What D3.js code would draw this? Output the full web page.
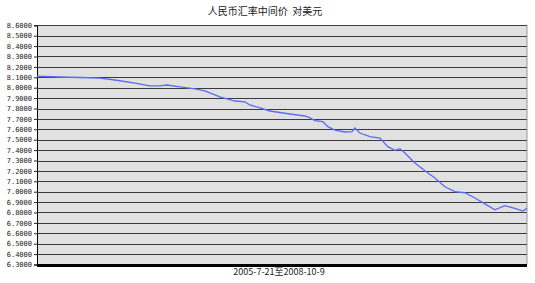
<!DOCTYPE html>
<html>
<head>
<meta charset="utf-8">
<script src="https://cdn.jsdelivr.net/npm/d3@7"></script>
<style>
  body { margin: 0; background: #fff; }
  svg { display: block; }
</style>
</head>
<body>
<svg id="chart" width="535" height="283"></svg>
<script>
////////// dados
const titulo = '人民币汇率中间价\u00a0\u00a0对美元';
const rotuloX = '2005-7-21至2008-10-9';
const inicio = '2005-07-21';
const fim = '2008-10-09';

const datas = [
  '2005-07-21','2005-09-14','2005-11-01','2005-12-19','2006-01-24','2006-03-13',
  '2006-04-18','2006-05-12','2006-05-29','2006-06-29','2006-08-04','2006-08-28',
  '2006-10-03','2006-11-08','2006-12-02','2006-12-14','2007-01-07','2007-01-31',
  '2007-03-20','2007-04-25','2007-05-07','2007-05-19','2007-06-07','2007-06-19',
  '2007-07-06','2007-07-30','2007-08-16','2007-08-23','2007-09-04','2007-09-28',
  '2007-10-22','2007-11-10','2007-11-27','2007-12-09','2007-12-21','2008-01-14',
  '2008-02-07','2008-03-02','2008-03-26','2008-04-19','2008-05-13','2008-06-06',
  '2008-06-30','2008-07-24','2008-08-17','2008-09-10','2008-09-29','2008-10-09'
];
const taxas = [
  8.111, 8.103, 8.098, 8.093, 8.074, 8.045,
  8.017, 8.017, 8.026, 8.007, 7.988, 7.969,
  7.911, 7.872, 7.863, 7.834, 7.805, 7.776,
  7.747, 7.728, 7.709, 7.684, 7.673, 7.625,
  7.593, 7.574, 7.577, 7.612, 7.564, 7.529,
  7.516, 7.433, 7.397, 7.413, 7.372, 7.276,
  7.202, 7.132, 7.048, 7.000, 6.990, 6.939,
  6.883, 6.826, 6.865, 6.840, 6.813, 6.840
];
const ticksY = [8.6, 8.5, 8.4, 8.3, 8.2, 8.1, 8.0, 7.9, 7.8, 7.7, 7.6, 7.5,
  7.4, 7.3, 7.2, 7.1, 7.0, 6.9, 6.8, 6.7, 6.6, 6.5, 6.4, 6.3];

////////// escalas
const parse = d3.timeParse('%Y-%m-%d');
const margem = {left: 37, right: 527, top: 25.3, bottom: 264.5};

const svg = d3.select('#chart');

let x = d3.scaleTime()
  .domain([parse(inicio), parse(fim)])
  .range([margem.left, margem.right]);

let y = d3.scaleLinear()
  .domain([6.3, 8.6])
  .range([margem.bottom, margem.top]);

// fundo da área do gráfico
svg.append('rect')
  .attr('x', margem.left)
  .attr('y', margem.top)
  .attr('width', margem.right - margem.left)
  .attr('height', margem.bottom - margem.top)
  .attr('fill', '#e1e1e1');

// rótulos + marcas do eixo Y
const eixoY = d3.axisLeft(y)
  .tickValues(ticksY)
  .tickSize(3)
  .tickFormat(d3.format('.4f'));

const gY = svg.append('g')
  .attr('transform', 'translate(' + margem.left + ',0)')
  .call(eixoY);

gY.select('.domain').attr('stroke', '#000');
gY.selectAll('.tick line').attr('stroke', '#222');
gY.selectAll('.tick text')
  .attr('x', -5)
  .attr('font-family', 'DejaVu Sans Mono, monospace')
  .attr('font-size', 7)
  .attr('fill', '#222');

// linhas de grade
svg.append('g')
  .selectAll('line')
  .data(ticksY.filter(d => d > 6.3))
  .join('line')
  .attr('x1', margem.left)
  .attr('x2', margem.right)
  .attr('y1', d => Math.round(y(d)) + 0.5)
  .attr('y2', d => Math.round(y(d)) + 0.5)
  .attr('stroke', '#3a3a3a')
  .attr('stroke-width', 1);

// borda direita
svg.append('line')
  .attr('x1', margem.right).attr('x2', margem.right)
  .attr('y1', margem.top).attr('y2', margem.bottom)
  .attr('stroke', '#999');

// eixo inferior grosso
svg.append('line')
  .attr('x1', margem.left).attr('x2', margem.right)
  .attr('y1', margem.bottom + 1).attr('y2', margem.bottom + 1)
  .attr('stroke', '#000')
  .attr('stroke-width', 3);

// linha da taxa
const pontos = datas.map((d, i) => ({data: parse(d), v: taxas[i]}));

const linha = d3.line()
  .x(d => x(d.data))
  .y(d => y(d.v));

svg.append('path')
  .datum(pontos)
  .attr('d', linha)
  .attr('fill', 'none')
  .attr('stroke', '#5a6cf6')
  .attr('stroke-width', 1.3);

// títulos
svg.append('text')
  .attr('x', 265)
  .attr('y', 15)
  .attr('text-anchor', 'middle')
  .attr('font-family', 'Noto Sans CJK SC')
  .attr('font-size', 10)
  .attr('fill', '#222')
  .text(titulo);

svg.append('text')
  .attr('x', 279)
  .attr('y', 275)
  .attr('text-anchor', 'middle')
  .attr('font-family', 'Noto Sans CJK SC')
  .attr('font-size', 9)
  .attr('fill', '#222')
  .text(rotuloX);
</script>
</body>
</html>
